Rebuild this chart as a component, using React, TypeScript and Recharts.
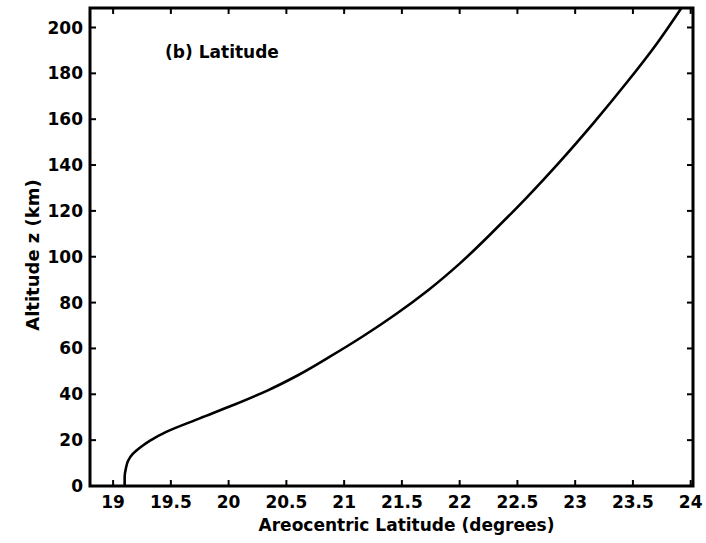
import type { ReactElement } from 'react'
import { LineChart, Line, XAxis, YAxis, ReferenceArea, ReferenceLine, ReferenceDot } from 'recharts'

// profile: areocentric latitude (deg) against altitude (km)
const latitude = [
	19.1, 19.1, 19.11, 19.13, 19.17, 19.24, 19.32, 19.46, 19.75, 20.04, 20.33, 20.6, 20.88, 21.16,
	21.45, 21.73, 22.0, 22.29, 22.58, 22.87, 23.16, 23.45, 23.7, 23.92
]
const altitude = [
	0, 4, 7.5, 11, 14, 17, 19.8, 23.6, 29.5, 35.3, 41.5, 48.3, 56.5, 65.2, 75, 85.5, 97, 111, 125.8,
	141.6, 158.4, 176.2, 192.5, 208.5
]

const latTicks = [19, 19.5, 20, 20.5, 21, 21.5, 22, 22.5, 23, 23.5, 24]
const altTicks = [0, 20, 40, 60, 80, 100, 120, 140, 160, 180, 200]

const X_MIN = 18.8
const X_MAX = 24.02
const Y_MIN = 0
const Y_MAX = 208.5

// inward tick lengths expressed in data units (~6px)
const X_TICK_LEN = 2.6
const Y_TICK_LEN = 0.052

const FONT = '"DejaVu Sans", Arial, sans-serif'

const data = latitude.map((lat, i) => ({ lat, alt: altitude[i] }))

const tickStyle = { fill: '#000', fontSize: 17, fontWeight: 'bold', fontFamily: FONT }

const App = (): ReactElement => {
	return (
		<div style={{ position: 'absolute', left: 0, top: 0 }}>
			<LineChart width={706} height={543} data={data} margin={{ top: 8, right: 13, bottom: 0, left: 0 }}>
				<XAxis
					dataKey='lat'
					type='number'
					domain={[X_MIN, X_MAX]}
					ticks={latTicks}
					allowDataOverflow
					axisLine={false}
					tickLine={false}
					tickSize={0}
					tickMargin={10}
					height={57}
					tick={tickStyle}
					label={{
						content: (props: any) => {
							const vb = props.viewBox
							return (
								<text
									x={vb.x + vb.width / 2 + 15}
									y={vb.y + 45}
									textAnchor='middle'
									fontFamily={FONT}
									fontWeight='bold'
									fontSize={17}
									fill='#000'
								>
									Areocentric Latitude (degrees)
								</text>
							)
						}
					}}
				/>
				<YAxis
					dataKey='alt'
					type='number'
					domain={[Y_MIN, Y_MAX]}
					ticks={altTicks}
					allowDataOverflow
					axisLine={false}
					tickLine={false}
					tickSize={0}
					tickMargin={7}
					width={90}
					tick={tickStyle}
					label={{
						content: (props: any) => {
							const vb = props.viewBox
							const cx = vb.x + 32
							const cy = vb.y + vb.height / 2 + 8
							return (
								<text
									x={cx}
									y={cy}
									transform={`rotate(-90 ${cx} ${cy})`}
									textAnchor='middle'
									dominantBaseline='central'
									fontFamily={FONT}
									fontWeight='bold'
									fontSize={18}
									fill='#000'
								>
									Altitude z (km)
								</text>
							)
						}
					}}
				/>

				<ReferenceArea
					x1={X_MIN}
					x2={X_MAX}
					y1={Y_MIN}
					y2={Y_MAX}
					fill='none'
					fillOpacity={0}
					stroke='#000'
					strokeWidth={3}
				/>

				{latTicks.map((v) => (
					<ReferenceLine
						key={`xb-${v}`}
						segment={[{ x: v, y: Y_MIN }, { x: v, y: Y_MIN + X_TICK_LEN }]}
						stroke='#000'
						strokeWidth={2}
					/>
				))}
				{latTicks.map((v) => (
					<ReferenceLine
						key={`xt-${v}`}
						segment={[{ x: v, y: Y_MAX }, { x: v, y: Y_MAX - X_TICK_LEN }]}
						stroke='#000'
						strokeWidth={2}
					/>
				))}
				{altTicks.map((v) => (
					<ReferenceLine
						key={`yl-${v}`}
						segment={[{ x: X_MIN, y: v }, { x: X_MIN + Y_TICK_LEN, y: v }]}
						stroke='#000'
						strokeWidth={2}
					/>
				))}
				{altTicks.map((v) => (
					<ReferenceLine
						key={`yr-${v}`}
						segment={[{ x: X_MAX, y: v }, { x: X_MAX - Y_TICK_LEN, y: v }]}
						stroke='#000'
						strokeWidth={2}
					/>
				))}

				<ReferenceDot
					x={19.45}
					y={189.3}
					r={0}
					shape={(props: any) => (
						<text
							x={props.cx}
							y={props.cy}
							dy='0.36em'
							fontFamily={FONT}
							fontWeight='bold'
							fontSize={17}
							fill='#000'
						>
							(b) Latitude
						</text>
					)}
				/>

				<Line
					dataKey='alt'
					type='monotoneY'
					stroke='#000'
					strokeWidth={2.6}
					dot={false}
					activeDot={false}
					isAnimationActive={false}
				/>
			</LineChart>
		</div>
	)
}

export default App
